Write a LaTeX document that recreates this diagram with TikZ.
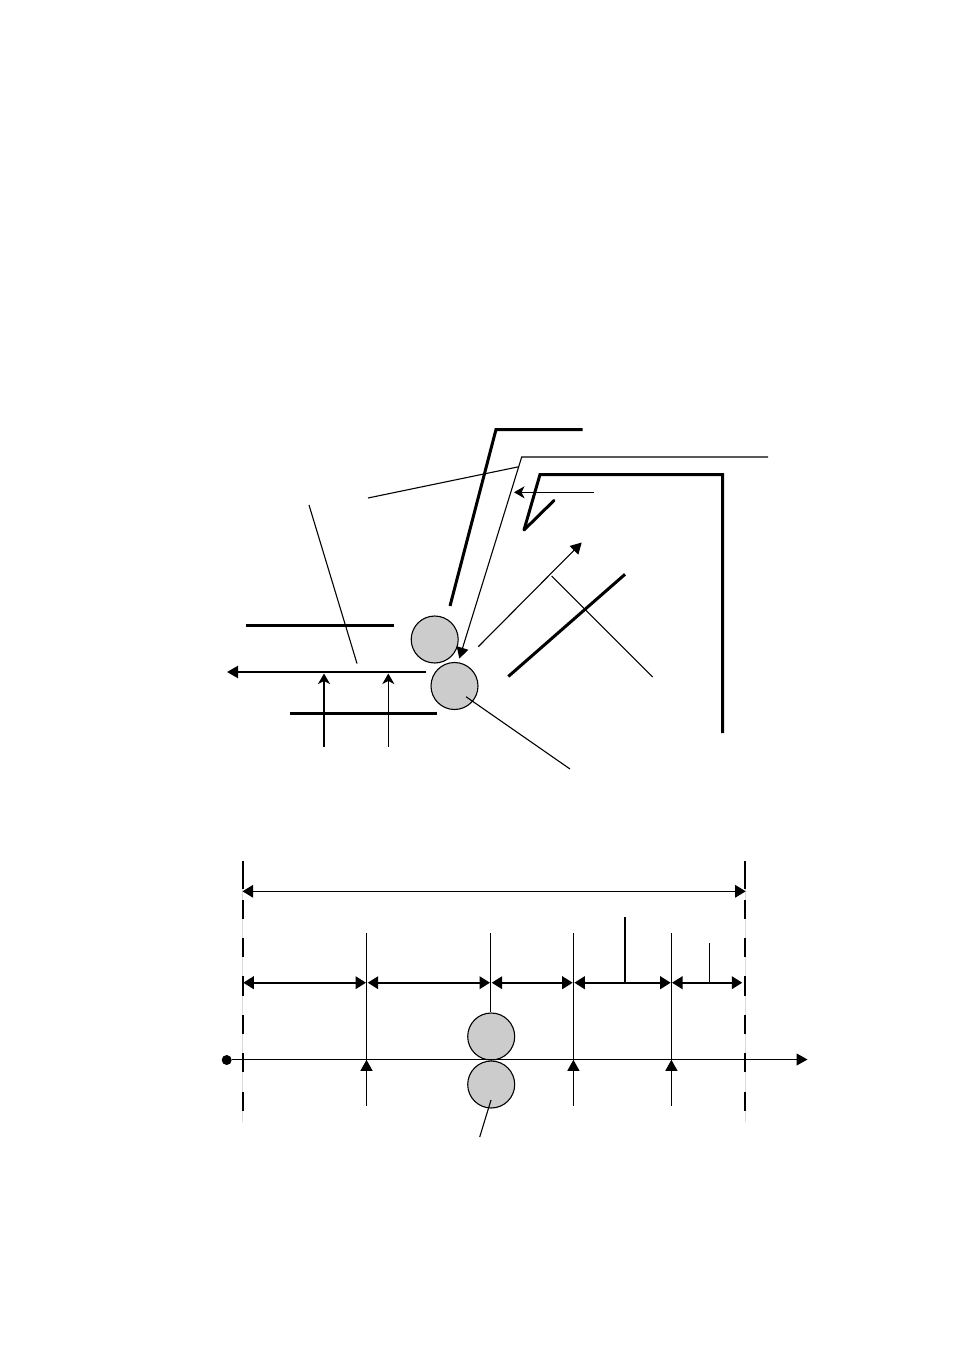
\documentclass[tikz,border=0pt]{standalone}
\usetikzlibrary{arrows.meta}
\tikzset{
 thinl/.style={line width=1.1pt,black},
 medl/.style={line width=2.2pt,black},
 thickl/.style={line width=3pt,black},
 tip/.style={-{Triangle[length=11pt,width=12pt]}},
 swept/.style={-{Stealth[length=10.5pt,width=12pt,inset=3pt]}},
 tips/.style={{Triangle[length=10.5pt,width=12.5pt]}-{Triangle[length=10.5pt,width=12.5pt]}},
 roll/.style={circle,draw=black,line width=1.1pt,fill=black!20,minimum size=47pt,inner sep=0pt},
 dashseg/.style={line width=2.2pt,black},
 guide/.style={line width=0.8pt,black!15},
}
\begin{document}
\begin{tikzpicture}[x=1pt,y=-1pt]
\useasboundingbox (0,0) rectangle (954,1351);
\fill[white] (0,0) rectangle (954,1351);
% upper
\coordinate (p1) at (450,606);\coordinate (p2) at (496,429.5);\coordinate (p3) at (582.5,429.5);
\draw[thickl,miter limit=10] (p1)--(p2)--(p3);
\coordinate (c1) at (554,500.5);\coordinate (c2) at (524,530);\coordinate (c3) at (540,474.5);\coordinate (c4) at (722.5,474.5);\coordinate (c5) at (722.5,733);
\draw[thickl,miter limit=10] (c2)--(c3)--(c4)--(c5);
\draw[thickl,line join=round,line cap=round] (c1)--(c2);
\node[roll] (r1) at (434.7,639.5) {};
\node[roll] (r2) at (454.5,686) {};
\coordinate (q1) at (768,457);\coordinate (q2) at (521.7,457);\coordinate (q3) at (459.3,658.5);
\draw[thinl,tip] (q1)--(q2)--(q3);
\coordinate (a1) at (368,498);\coordinate (a2) at (519,466.7);
\draw[thinl] (a1)--(a2);
\coordinate (b1) at (594,492.3);\coordinate (b2) at (514,492.3);
\draw[thinl,swept] (b1)--(b2);
\coordinate (d1) at (478.3,646.7);\coordinate (d2) at (581.7,542.5);
\draw[thinl,tip] (d1)--(d2);
\coordinate (e1) at (551.7,576);\coordinate (e2) at (652.7,677);
\draw[thinl] (e1)--(e2);
\coordinate (f1) at (508.3,676.5);\coordinate (f2) at (625,574.3);
\draw[thickl] (f1)--(f2);
\coordinate (g1) at (246,625);\coordinate (g2) at (393.5,625);
\draw[thickl] (g1)--(g2);
\coordinate (h1) at (426,672);\coordinate (h2) at (227,672);
\draw[medl,tip] (h1)--(h2);
\coordinate (i1) at (309,505);\coordinate (i2) at (357,663.5);
\draw[thinl] (i1)--(i2);
\coordinate (j1) at (289.5,713.5);\coordinate (j2) at (437,713.5);
\draw[thickl] (j1)--(j2);
\coordinate (k1) at (324,747);\coordinate (k2) at (324,673.5);
\draw[medl,swept] (k1)--(k2);
\coordinate (l1) at (388.3,747);\coordinate (l2) at (388.3,673.5);
\draw[thinl,swept] (l1)--(l2);
\coordinate (m1) at (466,696.7);\coordinate (m2) at (570,769);
\draw[thinl] (m1)--(m2);
% lower
\coordinate (v1t) at (242.7,861);\coordinate (v1b) at (242.7,1122);
\coordinate (v2t) at (745.2,861);\coordinate (v2b) at (745.2,1122);
\draw[guide] (v1t)--(v1b);
\draw[guide] (v2t)--(v2b);
\foreach \top/\bot in {861/889,900/918.5,938/957,976/996,1015/1033.5,1053/1072,1092/1111}{
  \draw[dashseg] (242.7,\top)--(242.7,\bot);
  \draw[dashseg] (745,\top)--(745,\bot);
}
\coordinate (t1) at (242.5,891.3);\coordinate (t2) at (745.7,891.3);
\draw[thinl,tips] (t1)--(t2);
\coordinate (s0a) at (243.3,982.7);\coordinate (s1b) at (366,982.7);
\coordinate (s1a) at (367.7,982.7);\coordinate (s2b) at (490,982.7);
\coordinate (s2a) at (491.7,982.7);\coordinate (s3b) at (572.7,982.7);
\coordinate (s3a) at (574.3,982.7);\coordinate (s4b) at (670.7,982.7);
\coordinate (s4a) at (672,982.7);\coordinate (s5b) at (742.3,982.7);
\foreach \a/\b in {s0a/s1b,s1a/s2b,s2a/s3b,s3a/s4b,s4a/s5b}\draw[medl,tips] (\a)--(\b);
\coordinate (u1) at (366.5,933.3);\coordinate (u1b) at (366.5,1105.7);
\coordinate (u2) at (490.5,933.3);
\coordinate (u3) at (573.4,933.3);\coordinate (u3b) at (573.4,1105.7);
\coordinate (u4) at (671.4,933.3);\coordinate (u4b) at (671.4,1105.7);
\draw[thinl] (u1)--(u1b);\draw[thinl] (u3)--(u3b);\draw[thinl] (u4)--(u4b);
\coordinate (w1) at (625,917);\coordinate (w1b) at (625,982.7);
\coordinate (w2) at (709.3,943);\coordinate (w2b) at (709.3,982.7);
\draw[thinl] (w1)--(w1b);\draw[thinl] (w2)--(w2b);
\node[roll] (r3) at (491.2,1036.5) {};
\node[roll] (r4) at (491.2,1084.5) {};
\draw[thinl] (u2)--(u2|-r3.north);
\node[circle,fill=black,minimum size=10pt,inner sep=0pt] (o) at (226.7,1060) {};
\coordinate (xe) at (807.5,1059.5);
\draw[thinl,tip] (o.east|-xe)--(xe);
\foreach \p in {366.5,573.4,671.4}\draw[thinl,-{Triangle[length=11pt,width=12pt]}] (\p,1075)--(\p,1059.8);
\coordinate (y1) at (491,1100);\coordinate (y2) at (479.7,1137);
\draw[thinl] (y1)--(y2);
\end{tikzpicture}
\end{document}
